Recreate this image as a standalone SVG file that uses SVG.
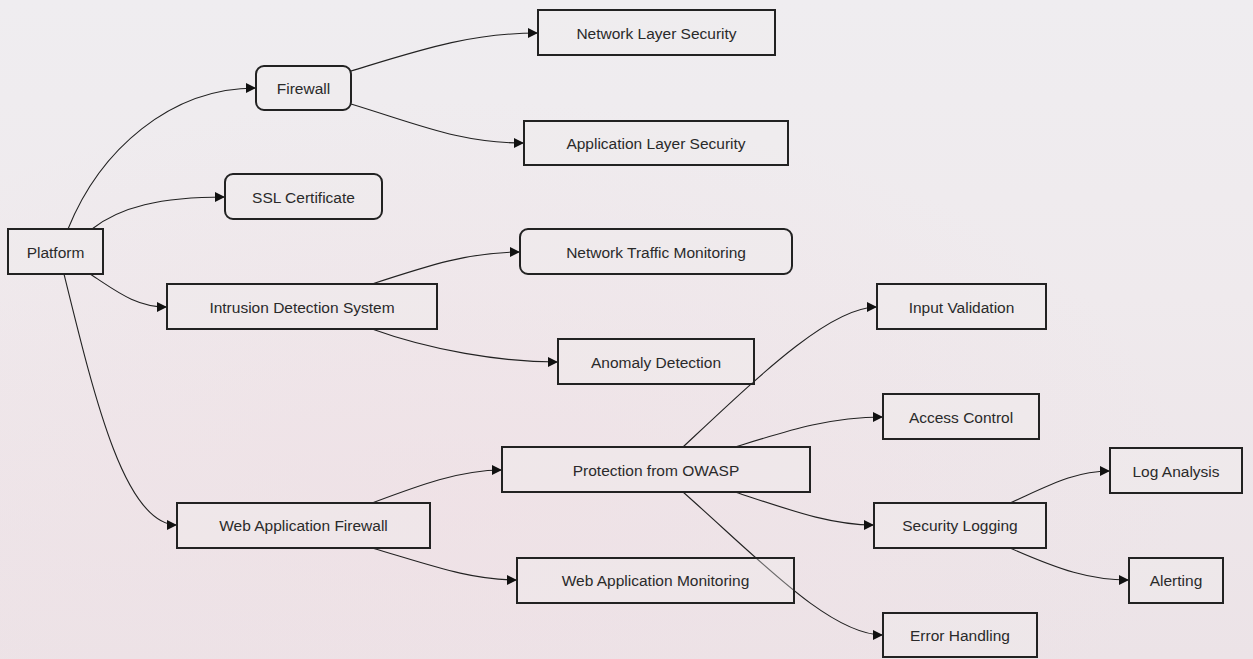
<svg xmlns="http://www.w3.org/2000/svg" width="1253" height="659" viewBox="0 0 1253 659">
<defs>
<linearGradient id="bg" x1="0" y1="0" x2="0" y2="1">
<stop offset="0" stop-color="#efedf0"/>
<stop offset="0.45" stop-color="#efeaed"/>
<stop offset="1" stop-color="#ece3e7"/>
</linearGradient>
<radialGradient id="glow" cx="0.35" cy="0.75" r="0.6">
<stop offset="0" stop-color="#f0dfe4" stop-opacity="0.6"/>
<stop offset="1" stop-color="#f0dfe4" stop-opacity="0"/>
</radialGradient>
<marker id="arr" viewBox="0 0 10 10" refX="10" refY="5" markerWidth="10" markerHeight="10" markerUnits="userSpaceOnUse" orient="auto">
<path d="M0,0 L10,5 L0,10 z" fill="#111"/>
</marker>
<style>
.n rect{fill:#f1edef;fill-opacity:0.35;stroke:#222;stroke-width:2}
.n text{font-family:"Liberation Sans",Arial,sans-serif;font-size:15.5px;fill:#2a2a2a;text-anchor:middle;dominant-baseline:central}
#edges path{fill:none;stroke:#222;stroke-width:1.1;marker-end:url(#arr)}
</style>
</defs>
<rect width="1253" height="659" fill="url(#bg)"/>
<rect width="1253" height="659" fill="url(#glow)"/>
<g id="edges">
<path d="M68,229 C100,150 170,88 256,88"/>
<path d="M92,229 C120,207 160,197 225,197"/>
<path d="M90,274 C115,290 135,307 167,307"/>
<path d="M64,274 C95,400 125,525 177,525"/>
<path d="M351,71 C420,50 470,33 538,33"/>
<path d="M351,104 C420,125 460,143 524,143"/>
<path d="M372,284 C430,265 470,252 520,252"/>
<path d="M372,329 C430,350 500,362 558,362"/>
<path d="M372,503 C420,485 460,470 502,470"/>
<path d="M372,548 C430,565 470,580 517,580"/>
<path d="M683,447 C760,375 830,307 877,307"/>
<path d="M735,447 C790,430 830,417 883,417"/>
<path d="M735,492 C790,510 830,525 874,525"/>
<path d="M683,492 C760,560 830,635 883,635"/>
<path d="M1010,503 C1050,485 1075,471 1110,471"/>
<path d="M1010,548 C1060,570 1090,580 1129,580"/>
</g>
<g id="platform" class="n"><rect x="8" y="229" width="95" height="45"/><text x="55.5" y="252">Platform</text></g>
<g id="firewall" class="n"><rect x="256" y="66" width="95" height="44" rx="8"/><text x="303.5" y="88">Firewall</text></g>
<g id="ssl" class="n"><rect x="225" y="174" width="157" height="45" rx="8"/><text x="303.5" y="197">SSL Certificate</text></g>
<g id="ids" class="n"><rect x="167" y="284" width="270" height="45"/><text x="302" y="307">Intrusion Detection System</text></g>
<g id="waf" class="n"><rect x="177" y="503" width="253" height="45"/><text x="303.5" y="525">Web Application Firewall</text></g>
<g id="nls" class="n"><rect x="538" y="10" width="237" height="45"/><text x="656.5" y="33">Network Layer Security</text></g>
<g id="als" class="n"><rect x="524" y="121" width="264" height="44"/><text x="656" y="143">Application Layer Security</text></g>
<g id="ntm" class="n"><rect x="520" y="229" width="272" height="45" rx="8"/><text x="656" y="252">Network Traffic Monitoring</text></g>
<g id="anomaly" class="n"><rect x="558" y="339" width="196" height="45"/><text x="656" y="362">Anomaly Detection</text></g>
<g id="owasp" class="n"><rect x="502" y="447" width="308" height="45"/><text x="656" y="470">Protection from OWASP</text></g>
<g id="wam" class="n"><rect x="517" y="558" width="277" height="45"/><text x="655.5" y="580">Web Application Monitoring</text></g>
<g id="input" class="n"><rect x="877" y="284" width="169" height="45"/><text x="961.5" y="307">Input Validation</text></g>
<g id="access" class="n"><rect x="883" y="394" width="156" height="45"/><text x="961" y="417">Access Control</text></g>
<g id="seclog" class="n"><rect x="874" y="503" width="172" height="45"/><text x="960" y="525">Security Logging</text></g>
<g id="error" class="n"><rect x="883" y="613" width="154" height="44"/><text x="960" y="635">Error Handling</text></g>
<g id="loganalysis" class="n"><rect x="1110" y="448" width="132" height="45"/><text x="1176" y="471">Log Analysis</text></g>
<g id="alerting" class="n"><rect x="1129" y="558" width="94" height="45"/><text x="1176" y="580">Alerting</text></g>
</svg>
